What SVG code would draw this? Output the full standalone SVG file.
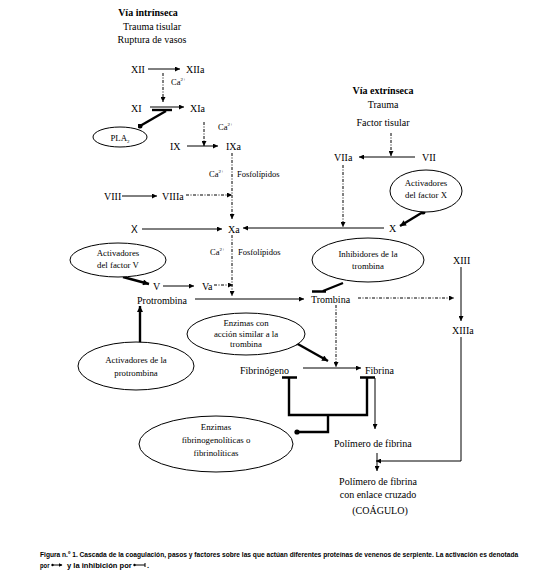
<svg xmlns="http://www.w3.org/2000/svg" width="541" height="580" viewBox="0 0 541 580">
<defs>
<style>
.t{font-family:"Liberation Serif","Times New Roman",serif;font-size:10px;fill:#000}
.s{font-size:8.8px}
.c{font-size:8.5px}
.sup{font-size:5px}
.b{font-weight:bold}
.m{text-anchor:middle}
.ln{stroke:#000;stroke-width:1;fill:none}
.dd{stroke-dasharray:3 1.5 1 1.5}
.thk{stroke-width:2.4}
.el{fill:#fff;stroke:#000;stroke-width:1}
.cap{font-family:"Liberation Sans Narrow","Liberation Sans",Arial,sans-serif;font-size:7.5px;font-weight:bold;fill:#000}
</style>
<marker id="ar" viewBox="0 0 6 6" refX="6" refY="3" markerWidth="6" markerHeight="5" markerUnits="userSpaceOnUse" orient="auto"><path d="M0,0 L6,3 L0,6 z" fill="#000"/></marker>
<marker id="arB" viewBox="0 0 6 6" refX="6" refY="3" markerWidth="7" markerHeight="6" markerUnits="userSpaceOnUse" orient="auto"><path d="M0,0 L6,3 L0,6 z" fill="#000"/></marker>
<marker id="dot" viewBox="0 0 6 6" refX="3" refY="3" markerWidth="5" markerHeight="5" markerUnits="userSpaceOnUse"><circle cx="3" cy="3" r="3" fill="#000"/></marker>
</defs>
<rect width="541" height="580" fill="#fff"/>

<g id="connectors">
<!-- intrinsic -->
<line class="ln" x1="148" y1="69" x2="180" y2="69" marker-end="url(#ar)"/>
<line class="ln dd" x1="163" y1="73" x2="163" y2="102" marker-end="url(#ar)"/>
<line class="ln" x1="150" y1="107" x2="184" y2="107" marker-end="url(#ar)"/>
<line class="ln thk" x1="152" y1="110" x2="172" y2="110"/>
<line class="ln thk" x1="166" y1="111" x2="140" y2="126" marker-end="url(#dot)"/>
<line class="ln dd" x1="204" y1="122" x2="204" y2="146" marker-end="url(#ar)"/>
<line class="ln" x1="187" y1="146" x2="218" y2="146" marker-end="url(#ar)"/>
<line class="ln dd" x1="232" y1="153" x2="232" y2="219" marker-end="url(#ar)"/>
<line class="ln" x1="122" y1="196" x2="157" y2="196" marker-end="url(#ar)"/>
<line class="ln dd" x1="186" y1="195" x2="232" y2="195" marker-end="url(#ar)"/>
<line class="ln" x1="142" y1="229" x2="222" y2="229" marker-end="url(#ar)"/>
<line class="ln" x1="384" y1="228" x2="243" y2="228" marker-end="url(#ar)"/>
<!-- extrinsic -->
<line class="ln dd" x1="391" y1="133" x2="391" y2="156" marker-end="url(#ar)"/>
<line class="ln" x1="415" y1="157" x2="359" y2="157" marker-end="url(#ar)"/>
<line class="ln dd" x1="343" y1="165" x2="343" y2="227" marker-end="url(#ar)"/>
<line class="ln thk" x1="423" y1="212" x2="400" y2="226" marker-start="url(#dot)" marker-end="url(#arB)"/>
<!-- Xa to thrombin -->
<line class="ln dd" x1="232" y1="235" x2="232" y2="296" marker-end="url(#ar)"/>
<line class="ln thk" x1="123" y1="277" x2="149" y2="284" marker-end="url(#arB)"/>
<line class="ln" x1="163" y1="286" x2="194" y2="286" marker-end="url(#ar)"/>
<line class="ln dd" x1="214" y1="285" x2="233" y2="285" marker-end="url(#ar)"/>
<line class="ln" x1="195" y1="299" x2="304" y2="299" marker-end="url(#ar)"/>
<line class="ln thk" x1="140" y1="345" x2="140" y2="306" marker-start="url(#dot)" marker-end="url(#arB)"/>
<path class="ln thk" d="M343,283 L323,291 M312,291.5 L326,291.5"/>
<line class="ln dd" x1="358" y1="298" x2="454" y2="298" marker-end="url(#ar)"/>
<line class="ln" x1="461" y1="267" x2="461" y2="321" marker-end="url(#ar)"/>
<path class="ln" d="M461,337 L461,461 L376,461" marker-end="url(#ar)"/>
<!-- fibrin -->
<line class="ln thk" x1="296" y1="343" x2="328" y2="361" marker-start="url(#dot)" marker-end="url(#arB)"/>
<line class="ln dd" x1="336" y1="305" x2="336" y2="367" marker-end="url(#ar)"/>
<line class="ln" x1="303" y1="368" x2="361" y2="368" marker-end="url(#ar)"/>
<path class="ln thk" d="M282,377.5 L297,377.5 M289,377.5 L289,415 L367,415 L367,377.5 M360,377.5 L375,377.5 M328,415 L328,432 L298,432"/>
<circle cx="297" cy="432" r="2.6" fill="#000"/>
<line class="ln" x1="375" y1="378" x2="375" y2="429" marker-end="url(#ar)"/>
<line class="ln" x1="377" y1="453" x2="377" y2="471" marker-end="url(#ar)"/>
</g>

<g id="via-intrinseca">
<text class="t b m" x="148" y="15.5">Vía intrínseca</text>
<text class="t m" x="152" y="29.5">Trauma tisular</text>
<text class="t m" x="152" y="42.5">Ruptura de vasos</text>
</g>
<g id="XII"><text class="t" x="131" y="72.5">XII</text></g>
<g id="XIIa"><text class="t" x="186" y="72.5">XIIa</text></g>
<g id="ca1"><text class="t c" x="171" y="85">Ca<tspan class="sup" dy="-4">2+</tspan></text></g>
<g id="XI"><text class="t" x="131" y="111.5">XI</text></g>
<g id="XIa"><text class="t" x="190" y="111.5">XIa</text></g>
<g id="PLA2">
<ellipse class="el" cx="120" cy="137" rx="27" ry="10"/>
<text class="t s m" x="120" y="140.5">PLA<tspan class="sup" dy="2">2</tspan></text>
</g>
<g id="ca2"><text class="t c" x="218" y="130">Ca<tspan class="sup" dy="-4">2+</tspan></text></g>
<g id="IX"><text class="t" x="170" y="150">IX</text></g>
<g id="IXa"><text class="t" x="226" y="150">IXa</text></g>
<g id="ca3"><text class="t c" x="209" y="177">Ca<tspan class="sup" dy="-4">2+</tspan></text><text class="t c" x="237" y="177">Fosfolípidos</text></g>
<g id="VIII"><text class="t" x="104" y="199.5">VIII</text></g>
<g id="VIIIa"><text class="t" x="162" y="199.5">VIIIa</text></g>
<g id="X-left"><text class="t" x="131" y="232.5" style="font-family:'Liberation Sans',Arial,sans-serif">X</text></g>
<g id="Xa"><text class="t" x="228" y="232.5">Xa</text></g>

<g id="via-extrinseca">
<text class="t b m" x="383" y="93.5">Vía extrínseca</text>
<text class="t m" x="383" y="107.5">Trauma</text>
<text class="t m" x="383" y="125.5">Factor tisular</text>
</g>
<g id="VIIa"><text class="t" x="334" y="161">VIIa</text></g>
<g id="VII"><text class="t" x="422" y="161">VII</text></g>
<g id="activadores-X">
<ellipse class="el" cx="426" cy="191" rx="36" ry="21"/>
<text class="t s m" x="426" y="186">Activadores</text>
<text class="t s m" x="426" y="198">del factor X</text>
</g>
<g id="X-right"><text class="t" x="389" y="232">X</text></g>

<g id="ca4"><text class="t c" x="210" y="255">Ca<tspan class="sup" dy="-4">2+</tspan></text><text class="t c" x="238" y="255">Fosfolípidos</text></g>
<g id="activadores-V">
<ellipse class="el" cx="118" cy="260" rx="48" ry="17"/>
<text class="t s m" x="118" y="255.5">Activadores</text>
<text class="t s m" x="118" y="267.5">del factor V</text>
</g>
<g id="V"><text class="t" x="153" y="289.5">V</text></g>
<g id="Va"><text class="t" x="202" y="289.5">Va</text></g>
<g id="protrombina"><text class="t" x="137" y="304">Protrombina</text></g>
<g id="trombina"><text class="t" x="311" y="302.5">Trombina</text></g>
<g id="inhibidores-trombina">
<ellipse class="el" cx="368" cy="260" rx="56" ry="22"/>
<text class="t s m" x="368" y="256.5">Inhibidores de la</text>
<text class="t s m" x="368" y="268.5">trombina</text>
</g>
<g id="XIII"><text class="t" x="453" y="263.5">XIII</text></g>
<g id="XIIIa"><text class="t" x="452" y="333.5">XIIIa</text></g>
<g id="activadores-protrombina">
<ellipse class="el" cx="136" cy="366" rx="58" ry="24"/>
<text class="t s m" x="136" y="363">Activadores de la</text>
<text class="t s m" x="136" y="376">protrombina</text>
</g>
<g id="enzimas-similar-trombina">
<ellipse class="el" cx="246" cy="334" rx="59" ry="21"/>
<text class="t s m" x="246" y="326">Enzimas con</text>
<text class="t s m" x="246" y="336.5">acción similar a la</text>
<text class="t s m" x="246" y="347">trombina</text>
</g>
<g id="fibrinogeno"><text class="t" x="240" y="373.5">Fibrinógeno</text></g>
<g id="fibrina"><text class="t" x="365" y="373.5">Fibrina</text></g>
<g id="enzimas-fibrinoliticas">
<ellipse class="el" cx="216" cy="444" rx="77" ry="28"/>
<text class="t s m" x="216" y="429.5">Enzimas</text>
<text class="t s m" x="216" y="443">fibrinogenolíticas o</text>
<text class="t s m" x="216" y="456">fibrinolíticas</text>
</g>
<g id="polimero"><text class="t" x="334" y="446.5">Polímero de fibrina</text></g>
<g id="polimero-cruzado">
<text class="t m" x="378" y="484.5">Polímero de fibrina</text>
<text class="t m" x="378" y="497.5">con enlace cruzado</text>
<text class="t m" x="380" y="513.5">(COÁGULO)</text>
</g>

<g id="caption">
<g transform="translate(40,556.5) scale(0.78,1)">
<text class="cap" x="0" y="0" textLength="613" lengthAdjust="spacingAndGlyphs">Figura n.º 1. Cascada de la coagulación, pasos y factores sobre las que actúan diferentes proteínas de venenos de serpiente. La activación es denotada</text>
</g>
<g transform="translate(40,567.5) scale(0.78,1)">
<text class="cap" x="0" y="0">por</text>
</g>
<line class="ln" x1="52" y1="565" x2="62" y2="565" stroke-width="0.8"/>
<circle cx="52.5" cy="565" r="1.2" fill="#000"/>
<path d="M59,563.3 L62.5,565 L59,566.7 z" fill="#000"/>
<g transform="translate(67,567.5) scale(0.78,1)">
<text class="cap" x="0" y="0" textLength="83" lengthAdjust="spacingAndGlyphs">y la inhibición por</text>
</g>
<line class="ln" x1="134" y1="565" x2="145" y2="565" stroke-width="0.8"/>
<circle cx="134.5" cy="565" r="1.2" fill="#000"/>
<line class="ln" x1="145" y1="563" x2="145" y2="567" stroke-width="0.9"/>
<text class="cap" x="147" y="567.5">.</text>
</g>
</svg>
